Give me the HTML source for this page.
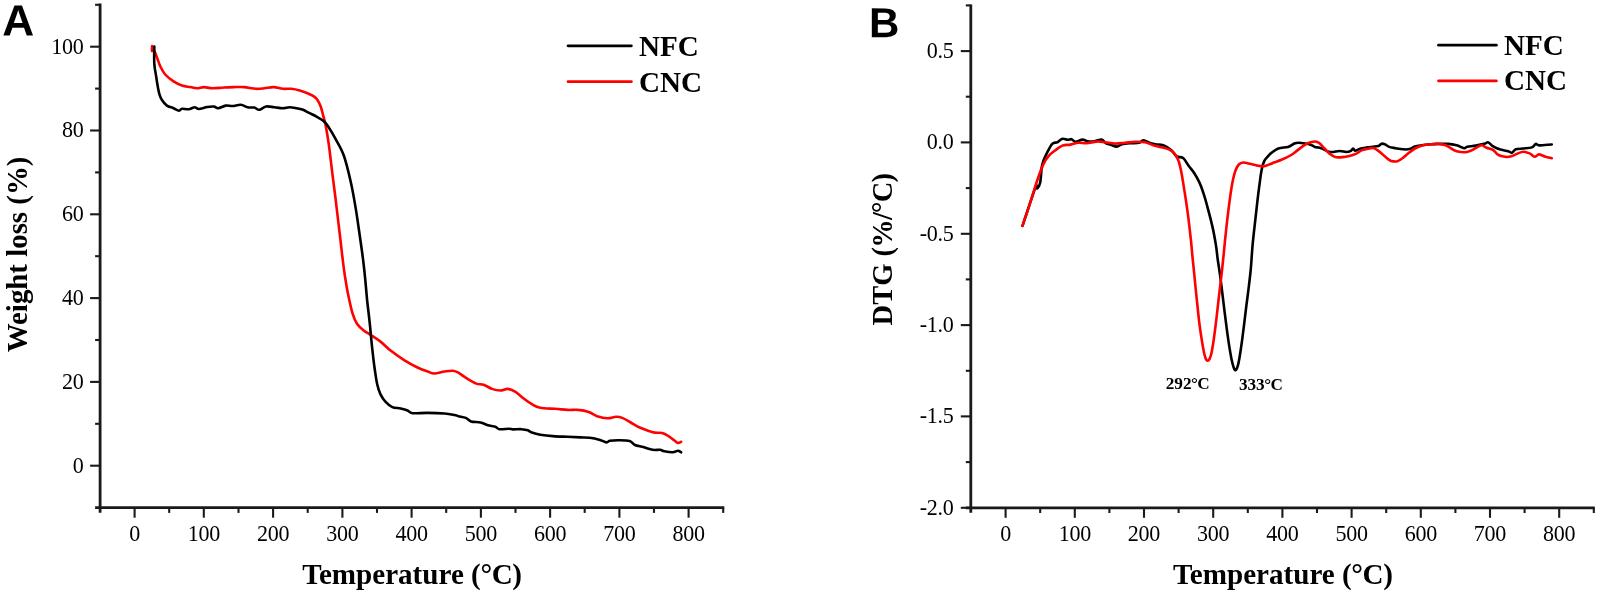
<!DOCTYPE html>
<html lang="en"><head><meta charset="utf-8"><title>TGA and DTG curves of NFC and CNC</title>
<style>
html,body{margin:0;padding:0;background:#fff;}
body{width:1600px;height:595px;overflow:hidden;}
svg{display:block;filter:blur(0.4px);}
text{fill:#000;}
.tk{font-family:"Liberation Serif","Times New Roman",serif;font-size:24px;letter-spacing:-0.3px;}
.lb{font-family:"Liberation Serif","Times New Roman",serif;font-weight:bold;font-size:28.5px;}
.lg{font-family:"Liberation Serif","Times New Roman",serif;font-weight:bold;font-size:29.1px;}
.an{font-family:"Liberation Serif","Times New Roman",serif;font-weight:bold;font-size:17.2px;}
.pn{font-family:"Liberation Sans",Arial,sans-serif;font-weight:bold;font-size:42px;}
.ax{stroke:#1a1a1a;stroke-width:2.8;fill:none;stroke-linecap:butt;}
.t{stroke:#1a1a1a;stroke-width:2.1;fill:none;}
.cv{fill:none;stroke-width:2.6;stroke-linejoin:round;stroke-linecap:round;}
</style></head><body>
<svg width="1600" height="595" viewBox="0 0 1600 595">
<rect x="0" y="0" width="1600" height="595" fill="#ffffff"/>
<g>
<line class="ax" x1="100.1" y1="3.5" x2="100.1" y2="512.7"/>
<line class="ax" x1="95.1" y1="507.7" x2="724.3" y2="507.7"/>
<line class="t" x1="134.6" y1="507.7" x2="134.6" y2="517.7"/>
<line class="t" x1="169.2" y1="507.7" x2="169.2" y2="512.9"/>
<line class="t" x1="203.8" y1="507.7" x2="203.8" y2="517.7"/>
<line class="t" x1="238.5" y1="507.7" x2="238.5" y2="512.9"/>
<line class="t" x1="273.1" y1="507.7" x2="273.1" y2="517.7"/>
<line class="t" x1="307.7" y1="507.7" x2="307.7" y2="512.9"/>
<line class="t" x1="342.4" y1="507.7" x2="342.4" y2="517.7"/>
<line class="t" x1="377.0" y1="507.7" x2="377.0" y2="512.9"/>
<line class="t" x1="411.6" y1="507.7" x2="411.6" y2="517.7"/>
<line class="t" x1="446.2" y1="507.7" x2="446.2" y2="512.9"/>
<line class="t" x1="480.9" y1="507.7" x2="480.9" y2="517.7"/>
<line class="t" x1="515.5" y1="507.7" x2="515.5" y2="512.9"/>
<line class="t" x1="550.1" y1="507.7" x2="550.1" y2="517.7"/>
<line class="t" x1="584.7" y1="507.7" x2="584.7" y2="512.9"/>
<line class="t" x1="619.4" y1="507.7" x2="619.4" y2="517.7"/>
<line class="t" x1="654.0" y1="507.7" x2="654.0" y2="512.9"/>
<line class="t" x1="688.6" y1="507.7" x2="688.6" y2="517.7"/>
<line class="t" x1="723.2" y1="507.7" x2="723.2" y2="512.9"/>
<text class="tk" transform="translate(134.6,541.3) scale(0.92,1)" text-anchor="middle">0</text>
<text class="tk" transform="translate(203.8,541.3) scale(0.92,1)" text-anchor="middle">100</text>
<text class="tk" transform="translate(273.1,541.3) scale(0.92,1)" text-anchor="middle">200</text>
<text class="tk" transform="translate(342.4,541.3) scale(0.92,1)" text-anchor="middle">300</text>
<text class="tk" transform="translate(411.6,541.3) scale(0.92,1)" text-anchor="middle">400</text>
<text class="tk" transform="translate(480.9,541.3) scale(0.92,1)" text-anchor="middle">500</text>
<text class="tk" transform="translate(550.1,541.3) scale(0.92,1)" text-anchor="middle">600</text>
<text class="tk" transform="translate(619.4,541.3) scale(0.92,1)" text-anchor="middle">700</text>
<text class="tk" transform="translate(688.6,541.3) scale(0.92,1)" text-anchor="middle">800</text>
<line class="t" x1="90.1" y1="465.7" x2="100.1" y2="465.7"/>
<text class="tk" transform="translate(83.6,472.5) scale(0.92,1)" text-anchor="end">0</text>
<line class="t" x1="90.1" y1="381.9" x2="100.1" y2="381.9"/>
<text class="tk" transform="translate(83.6,388.7) scale(0.92,1)" text-anchor="end">20</text>
<line class="t" x1="90.1" y1="298.1" x2="100.1" y2="298.1"/>
<text class="tk" transform="translate(83.6,304.9) scale(0.92,1)" text-anchor="end">40</text>
<line class="t" x1="90.1" y1="214.3" x2="100.1" y2="214.3"/>
<text class="tk" transform="translate(83.6,221.1) scale(0.92,1)" text-anchor="end">60</text>
<line class="t" x1="90.1" y1="130.5" x2="100.1" y2="130.5"/>
<text class="tk" transform="translate(83.6,137.3) scale(0.92,1)" text-anchor="end">80</text>
<line class="t" x1="90.1" y1="46.7" x2="100.1" y2="46.7"/>
<text class="tk" transform="translate(83.6,53.5) scale(0.92,1)" text-anchor="end">100</text>
<line class="t" x1="95.1" y1="423.8" x2="100.1" y2="423.8"/>
<line class="t" x1="95.1" y1="340.0" x2="100.1" y2="340.0"/>
<line class="t" x1="95.1" y1="256.2" x2="100.1" y2="256.2"/>
<line class="t" x1="95.1" y1="172.4" x2="100.1" y2="172.4"/>
<line class="t" x1="95.1" y1="88.6" x2="100.1" y2="88.6"/>
<line class="t" x1="95.1" y1="4.8" x2="100.1" y2="4.8"/>
<text class="lb" transform="translate(26.8,352.2) rotate(-90) scale(1,1.04)" style="font-size:28.86px">Weight loss (%)</text>
<text class="lb" x="302.2" y="584.4" style="font-size:29.1px">Temperature <tspan letter-spacing="-0.35">(°C)</tspan></text>
<text class="pn" transform="translate(2.3,35.6) scale(1.01,1) rotate(0.03)" style="font-size:43.8px">A</text>
</g>
<path class="cv" stroke="#f00" d="M152.1,46.0 C152.1,46.8 151.8,50.4 152.1,51.0 C152.3,51.6 152.8,48.5 153.6,49.5 C154.4,50.5 155.7,54.1 156.8,56.9 C157.9,59.7 158.8,63.2 160.2,66.1 C161.6,69.0 163.0,72.0 165.2,74.5 C167.4,77.0 170.8,79.5 173.6,81.3 C176.4,83.1 179.2,84.5 182.0,85.5 C184.8,86.5 187.9,86.6 190.4,87.1 C192.9,87.6 194.8,88.3 197.1,88.3 C199.3,88.3 201.4,87.1 203.9,87.1 C206.4,87.1 209.0,88.2 212.3,88.3 C215.7,88.4 220.4,87.7 224.0,87.5 C227.6,87.3 230.7,87.2 234.1,87.1 C237.5,87.0 240.5,86.8 244.2,87.1 C247.8,87.4 252.6,88.6 256.0,88.8 C259.4,89.0 261.5,88.6 264.4,88.3 C267.3,88.0 270.5,87.0 273.6,87.1 C276.7,87.2 279.9,88.5 282.9,88.8 C285.8,89.1 288.5,88.5 291.3,88.8 C294.1,89.1 296.9,89.7 299.7,90.5 C302.5,91.3 305.9,92.6 308.1,93.5 C310.3,94.4 311.6,94.9 313.1,95.9 C314.6,96.9 316.0,97.9 317.3,99.7 C318.6,101.5 319.7,103.8 320.7,106.5 C321.7,109.2 322.4,112.7 323.2,115.7 C324.0,118.7 324.6,119.8 325.5,124.5 C326.4,129.2 327.6,136.0 328.7,143.7 C329.8,151.4 330.9,161.6 332.0,170.6 C333.1,179.6 334.1,186.8 335.4,197.5 C336.7,208.2 338.4,222.7 339.8,234.5 C341.2,246.3 342.7,259.9 343.8,268.2 C344.9,276.4 345.4,279.2 346.2,284.0 C347.0,288.8 347.5,291.9 348.6,296.8 C349.7,301.7 351.2,309.1 352.6,313.6 C354.0,318.1 355.1,320.9 357.0,323.7 C358.9,326.5 361.4,328.6 363.7,330.5 C365.9,332.4 367.7,332.9 370.5,334.8 C373.3,336.7 377.1,339.0 380.5,341.6 C383.9,344.2 386.7,347.5 390.6,350.6 C394.5,353.7 399.6,357.3 404.1,360.1 C408.6,362.9 413.6,365.6 417.5,367.5 C421.4,369.4 424.8,370.5 427.6,371.5 C430.4,372.5 431.6,373.5 434.4,373.5 C437.2,373.5 441.4,371.9 444.5,371.5 C447.6,371.1 450.6,370.6 452.9,370.8 C455.2,371.0 456.1,371.4 458.4,372.7 C460.7,374.0 463.8,376.6 466.8,378.4 C469.8,380.2 473.5,382.6 476.3,383.6 C479.1,384.7 481.0,383.8 483.6,384.7 C486.2,385.6 489.2,387.9 492.0,388.9 C494.8,389.9 497.8,390.5 500.4,390.5 C503.0,390.5 505.4,388.7 507.8,388.9 C510.2,389.1 512.5,390.0 515.1,391.6 C517.7,393.2 520.7,396.2 523.5,398.3 C526.3,400.4 529.1,402.6 531.9,404.2 C534.7,405.8 536.4,407.0 540.3,407.8 C544.1,408.6 550.5,408.5 555.0,408.8 C559.5,409.1 563.7,409.7 567.6,409.9 C571.5,410.1 574.7,409.5 578.2,409.9 C581.7,410.2 585.6,410.9 588.7,412.0 C591.9,413.1 594.0,415.1 597.1,416.2 C600.2,417.2 604.5,418.2 607.6,418.3 C610.8,418.4 613.5,416.9 616.0,416.8 C618.5,416.7 619.8,416.9 622.3,417.9 C624.8,418.8 627.9,420.9 630.7,422.5 C633.5,424.1 636.3,426.0 639.1,427.3 C641.9,428.6 644.9,429.6 647.5,430.5 C650.1,431.4 652.3,432.2 654.8,432.6 C657.2,433.0 659.9,432.4 662.2,433.0 C664.5,433.6 666.4,434.8 668.5,436.1 C670.6,437.4 673.2,439.7 674.8,440.8 C676.4,441.9 676.8,442.7 677.9,442.9 C679.0,443.1 680.6,442.0 681.1,441.8"/>
<path class="cv" stroke="#000" d="M154.3,46.6 C154.3,49.4 154.0,58.8 154.3,63.6 C154.6,68.4 155.4,71.8 156.0,75.4 C156.6,79.1 157.0,82.4 157.6,85.5 C158.2,88.6 158.6,91.5 159.3,93.9 C160.0,96.3 160.5,97.8 161.8,99.7 C163.1,101.7 164.9,104.2 166.9,105.6 C168.9,107.0 171.6,107.3 173.6,108.2 C175.6,109.1 177.6,110.6 179.0,110.7 C180.4,110.8 180.4,108.9 182.0,108.7 C183.6,108.5 186.6,109.5 188.7,109.3 C190.8,109.1 192.9,107.3 194.6,107.3 C196.3,107.2 196.7,109.0 198.8,109.0 C200.9,109.0 204.7,107.4 207.2,107.0 C209.7,106.6 212.1,106.3 213.9,106.5 C215.7,106.7 216.2,108.4 218.2,108.2 C220.2,108.0 223.3,106.0 225.7,105.6 C228.1,105.2 229.9,106.1 232.4,106.0 C234.9,105.9 238.3,104.6 240.8,104.8 C243.3,105.0 245.3,106.8 247.6,107.3 C249.8,107.8 252.4,107.2 254.3,107.6 C256.2,108.0 257.4,110.0 259.3,109.8 C261.2,109.6 263.5,106.9 266.0,106.5 C268.5,106.1 271.6,107.0 274.4,107.3 C277.2,107.6 280.4,108.2 282.9,108.2 C285.4,108.2 287.4,107.3 289.6,107.3 C291.8,107.3 294.1,107.8 296.3,108.2 C298.5,108.6 300.8,109.0 303.0,109.8 C305.2,110.6 307.4,112.1 309.7,113.2 C311.9,114.3 314.2,115.3 316.5,116.6 C318.8,117.9 321.2,119.1 323.2,120.8 C325.1,122.5 326.2,123.5 328.2,126.5 C330.2,129.5 332.8,133.9 335.4,138.7 C338.0,143.5 341.3,148.5 343.8,155.5 C346.3,162.5 348.5,172.0 350.5,180.7 C352.5,189.4 354.1,198.6 355.6,207.6 C357.1,216.6 358.3,225.5 359.6,234.5 C360.9,243.5 362.4,253.8 363.3,261.4 C364.2,269.0 364.7,273.5 365.3,280.0 C365.9,286.5 366.4,292.9 367.1,300.2 C367.9,307.5 369.0,315.8 369.8,323.7 C370.6,331.6 371.3,340.0 372.1,347.3 C372.9,354.6 373.6,361.3 374.5,367.5 C375.4,373.7 376.2,379.8 377.2,384.3 C378.2,388.8 379.1,391.5 380.5,394.4 C381.9,397.3 383.6,399.7 385.6,401.8 C387.6,403.9 389.8,406.0 392.3,407.1 C394.8,408.2 398.2,407.9 400.7,408.5 C403.2,409.1 405.5,409.7 407.5,410.5 C409.5,411.3 409.1,412.8 412.5,413.2 C415.9,413.6 422.3,412.8 427.6,412.9 C432.9,412.9 440.0,413.1 444.5,413.5 C449.0,413.9 452.2,414.6 454.5,415.0 C456.8,415.4 456.5,415.7 458.4,416.2 C460.3,416.7 463.7,417.0 465.8,417.9 C467.9,418.8 468.6,420.6 471.0,421.4 C473.4,422.2 477.7,421.9 480.5,422.5 C483.3,423.1 485.4,424.5 487.8,425.2 C490.2,425.9 493.3,426.0 495.2,426.7 C497.1,427.4 497.1,428.8 499.4,429.2 C501.7,429.6 506.5,428.8 508.8,428.8 C511.1,428.8 510.9,429.3 513.0,429.4 C515.1,429.5 518.9,429.0 521.4,429.2 C523.9,429.4 526.0,429.7 527.7,430.3 C529.5,430.9 529.8,431.9 531.9,432.6 C534.0,433.3 536.8,434.1 540.3,434.7 C543.8,435.3 548.3,435.8 552.9,436.1 C557.5,436.5 563.0,436.6 567.6,436.8 C572.2,437.0 576.6,437.2 580.3,437.4 C584.0,437.6 586.6,437.4 589.7,437.8 C592.9,438.2 596.4,438.9 599.2,439.7 C602.0,440.5 604.8,442.2 606.5,442.4 C608.2,442.6 607.8,441.1 609.7,440.8 C611.6,440.5 614.8,440.3 618.1,440.3 C621.4,440.3 626.8,440.2 629.6,441.0 C632.4,441.8 632.6,444.0 634.9,445.0 C637.2,446.0 640.3,446.3 643.3,447.1 C646.3,447.9 649.9,449.4 652.7,449.8 C655.5,450.2 658.2,449.6 660.1,449.8 C662.0,450.1 662.2,450.9 664.3,451.3 C666.4,451.7 670.4,452.4 672.7,452.3 C675.0,452.2 676.5,450.8 677.9,450.8 C679.3,450.8 680.6,452.1 681.1,452.3"/>
<line x1="568" y1="45.8" x2="631.4" y2="45.8" stroke="#000" stroke-width="2.7" stroke-linecap="round"/>
<line x1="568" y1="81.7" x2="631.4" y2="81.7" stroke="#f00" stroke-width="2.7" stroke-linecap="round"/>
<text class="lg" x="638.9" y="55.9">NFC</text>
<text class="lg" x="638.9" y="91.8">CNC</text>
<g>
<line class="ax" x1="970.8" y1="4.4" x2="970.8" y2="512.8"/>
<line class="ax" x1="965.8" y1="507.8" x2="1594.8" y2="507.8"/>
<line class="t" x1="1005.6" y1="507.8" x2="1005.6" y2="517.8"/>
<line class="t" x1="1040.2" y1="507.8" x2="1040.2" y2="513.0"/>
<line class="t" x1="1074.8" y1="507.8" x2="1074.8" y2="517.8"/>
<line class="t" x1="1109.4" y1="507.8" x2="1109.4" y2="513.0"/>
<line class="t" x1="1144.0" y1="507.8" x2="1144.0" y2="517.8"/>
<line class="t" x1="1178.6" y1="507.8" x2="1178.6" y2="513.0"/>
<line class="t" x1="1213.2" y1="507.8" x2="1213.2" y2="517.8"/>
<line class="t" x1="1247.8" y1="507.8" x2="1247.8" y2="513.0"/>
<line class="t" x1="1282.4" y1="507.8" x2="1282.4" y2="517.8"/>
<line class="t" x1="1317.0" y1="507.8" x2="1317.0" y2="513.0"/>
<line class="t" x1="1351.6" y1="507.8" x2="1351.6" y2="517.8"/>
<line class="t" x1="1386.2" y1="507.8" x2="1386.2" y2="513.0"/>
<line class="t" x1="1420.8" y1="507.8" x2="1420.8" y2="517.8"/>
<line class="t" x1="1455.4" y1="507.8" x2="1455.4" y2="513.0"/>
<line class="t" x1="1490.0" y1="507.8" x2="1490.0" y2="517.8"/>
<line class="t" x1="1524.6" y1="507.8" x2="1524.6" y2="513.0"/>
<line class="t" x1="1559.2" y1="507.8" x2="1559.2" y2="517.8"/>
<line class="t" x1="1593.8" y1="507.8" x2="1593.8" y2="513.0"/>
<text class="tk" transform="translate(1005.6,541.3) scale(0.92,1)" text-anchor="middle">0</text>
<text class="tk" transform="translate(1074.8,541.3) scale(0.92,1)" text-anchor="middle">100</text>
<text class="tk" transform="translate(1144.0,541.3) scale(0.92,1)" text-anchor="middle">200</text>
<text class="tk" transform="translate(1213.2,541.3) scale(0.92,1)" text-anchor="middle">300</text>
<text class="tk" transform="translate(1282.4,541.3) scale(0.92,1)" text-anchor="middle">400</text>
<text class="tk" transform="translate(1351.6,541.3) scale(0.92,1)" text-anchor="middle">500</text>
<text class="tk" transform="translate(1420.8,541.3) scale(0.92,1)" text-anchor="middle">600</text>
<text class="tk" transform="translate(1490.0,541.3) scale(0.92,1)" text-anchor="middle">700</text>
<text class="tk" transform="translate(1559.2,541.3) scale(0.92,1)" text-anchor="middle">800</text>
<line class="t" x1="960.8" y1="51.1" x2="970.8" y2="51.1"/>
<text class="tk" transform="translate(953.6,57.9) scale(0.92,1)" text-anchor="end">0.5</text>
<line class="t" x1="960.8" y1="142.4" x2="970.8" y2="142.4"/>
<text class="tk" transform="translate(953.6,149.2) scale(0.92,1)" text-anchor="end">0.0</text>
<line class="t" x1="960.8" y1="233.8" x2="970.8" y2="233.8"/>
<text class="tk" transform="translate(953.6,240.6) scale(0.92,1)" text-anchor="end">-0.5</text>
<line class="t" x1="960.8" y1="325.1" x2="970.8" y2="325.1"/>
<text class="tk" transform="translate(953.6,331.9) scale(0.92,1)" text-anchor="end">-1.0</text>
<line class="t" x1="960.8" y1="416.4" x2="970.8" y2="416.4"/>
<text class="tk" transform="translate(953.6,423.2) scale(0.92,1)" text-anchor="end">-1.5</text>
<line class="t" x1="960.8" y1="507.8" x2="970.8" y2="507.8"/>
<text class="tk" transform="translate(953.6,514.6) scale(0.92,1)" text-anchor="end">-2.0</text>
<line class="t" x1="965.8" y1="5.4" x2="970.8" y2="5.4"/>
<line class="t" x1="965.8" y1="96.7" x2="970.8" y2="96.7"/>
<line class="t" x1="965.8" y1="188.1" x2="970.8" y2="188.1"/>
<line class="t" x1="965.8" y1="279.4" x2="970.8" y2="279.4"/>
<line class="t" x1="965.8" y1="370.8" x2="970.8" y2="370.8"/>
<line class="t" x1="965.8" y1="462.1" x2="970.8" y2="462.1"/>
<text class="lb" transform="translate(891.6,325.4) rotate(-90) scale(1,1.04)" style="font-size:28.5px">DTG <tspan letter-spacing="-0.75">(%/°C)</tspan></text>
<text class="lb" x="1173.1" y="584.4" style="font-size:29.1px">Temperature <tspan letter-spacing="-0.35">(°C)</tspan></text>
<text class="pn" transform="translate(869,37.2) scale(1.0,1) rotate(0.03)" style="font-size:42px">B</text>
</g>
<path class="cv" stroke="#000" d="M1022.5,225.8 C1023.8,222.0 1028.0,209.3 1030.2,202.7 C1032.5,196.1 1034.8,188.4 1036.0,186.0 C1037.2,183.6 1036.5,189.1 1037.2,188.5 C1037.9,187.9 1039.4,186.5 1040.2,182.5 C1041.0,178.5 1041.1,169.4 1042.3,164.4 C1043.5,159.4 1045.6,155.7 1047.3,152.3 C1049.0,148.9 1050.6,145.5 1052.3,143.8 C1054.0,142.1 1055.7,143.0 1057.4,142.2 C1059.1,141.4 1060.7,139.2 1062.4,138.8 C1064.1,138.4 1066.0,139.7 1067.5,139.8 C1069.0,139.9 1070.2,138.9 1071.5,139.2 C1072.8,139.5 1073.7,141.7 1075.5,141.8 C1077.3,141.9 1080.6,139.7 1082.6,139.6 C1084.6,139.5 1085.6,140.9 1087.6,141.2 C1089.6,141.5 1092.3,141.5 1094.7,141.2 C1097.1,140.9 1099.9,139.3 1101.7,139.6 C1103.5,139.9 1104.3,142.3 1105.8,143.2 C1107.3,144.1 1108.9,144.2 1110.8,144.8 C1112.7,145.4 1115.1,146.7 1116.9,146.6 C1118.8,146.5 1119.6,144.8 1121.9,144.2 C1124.2,143.6 1128.2,143.4 1131.0,143.2 C1133.8,143.0 1137.0,143.3 1139.0,142.8 C1141.0,142.3 1141.6,140.3 1143.1,140.2 C1144.6,140.1 1146.1,141.5 1148.1,142.2 C1150.1,142.9 1152.7,143.7 1155.2,144.2 C1157.7,144.7 1160.5,144.2 1163.2,145.2 C1165.9,146.2 1169.1,148.3 1171.3,150.2 C1173.5,152.1 1174.6,155.1 1176.6,156.4 C1178.6,157.7 1181.1,156.4 1183.1,158.0 C1185.1,159.6 1186.8,163.3 1188.6,165.8 C1190.4,168.3 1192.2,170.0 1194.0,172.8 C1195.8,175.6 1197.8,179.0 1199.5,182.6 C1201.2,186.2 1202.5,190.0 1203.9,194.6 C1205.4,199.2 1206.8,204.4 1208.2,209.9 C1209.7,215.4 1211.3,221.6 1212.6,227.4 C1213.9,233.2 1215.0,239.5 1215.9,244.9 C1216.8,250.3 1217.1,255.1 1217.8,260.0 C1218.5,264.9 1219.2,268.6 1219.9,274.1 C1220.7,279.6 1221.5,286.7 1222.3,293.0 C1223.1,299.3 1223.8,305.5 1224.6,311.8 C1225.4,318.1 1226.2,324.8 1227.0,330.7 C1227.8,336.6 1228.6,342.2 1229.4,347.1 C1230.2,352.0 1231.0,356.8 1231.7,360.1 C1232.4,363.5 1233.0,365.5 1233.6,367.2 C1234.2,368.9 1234.9,370.2 1235.5,370.2 C1236.1,370.2 1236.7,369.3 1237.4,367.2 C1238.1,365.1 1238.8,361.8 1239.5,357.7 C1240.2,353.6 1241.0,348.1 1241.8,342.4 C1242.6,336.7 1243.4,329.9 1244.2,323.6 C1245.0,317.3 1245.7,311.0 1246.5,304.7 C1247.3,298.4 1248.2,291.9 1248.9,285.9 C1249.6,279.9 1250.2,275.7 1250.8,268.9 C1251.4,262.1 1251.9,252.9 1252.6,244.9 C1253.3,236.9 1254.4,228.1 1255.2,220.8 C1256.0,213.5 1256.7,207.4 1257.4,201.2 C1258.1,195.0 1258.9,189.0 1259.6,183.7 C1260.3,178.4 1260.9,173.3 1261.7,169.5 C1262.5,165.7 1263.2,163.2 1264.3,160.9 C1265.4,158.7 1267.2,157.2 1268.3,156.0 C1269.4,154.8 1269.1,154.7 1270.8,153.4 C1272.5,152.2 1275.4,149.6 1278.3,148.5 C1281.2,147.4 1285.3,147.7 1288.0,146.9 C1290.7,146.1 1292.6,144.2 1294.4,143.5 C1296.2,142.8 1296.9,142.8 1298.7,142.8 C1300.5,142.8 1303.2,143.2 1305.2,143.5 C1307.2,143.8 1309.0,144.1 1310.6,144.7 C1312.2,145.3 1313.1,146.3 1314.9,146.9 C1316.7,147.5 1318.8,147.3 1321.3,148.2 C1323.8,149.0 1326.9,151.5 1329.9,152.0 C1333.0,152.5 1336.9,151.0 1339.6,151.0 C1342.3,151.0 1344.3,152.0 1346.1,152.0 C1347.9,152.0 1349.2,151.8 1350.4,151.2 C1351.6,150.6 1352.3,148.6 1353.1,148.5 C1353.9,148.4 1354.0,150.6 1355.2,150.7 C1356.4,150.8 1358.0,149.4 1360.1,148.8 C1362.2,148.2 1365.4,147.8 1367.6,147.4 C1369.8,147.1 1371.2,146.9 1373.0,146.7 C1374.8,146.5 1377.0,146.5 1378.4,146.0 C1379.8,145.5 1380.5,144.0 1381.6,143.7 C1382.7,143.4 1383.5,143.7 1384.8,144.2 C1386.0,144.7 1387.3,146.2 1389.1,146.9 C1390.9,147.6 1393.3,147.8 1395.6,148.2 C1397.9,148.6 1400.8,149.2 1403.1,149.3 C1405.4,149.5 1407.6,149.6 1409.6,149.1 C1411.6,148.6 1412.9,147.0 1414.9,146.4 C1416.9,145.8 1419.1,145.6 1421.4,145.3 C1423.7,145.0 1426.0,144.7 1428.6,144.5 C1431.2,144.3 1434.0,144.0 1437.2,143.9 C1440.4,143.8 1444.8,143.7 1448.0,143.9 C1451.2,144.1 1453.9,144.6 1456.6,145.3 C1459.3,146.0 1462.3,148.0 1464.1,148.2 C1465.9,148.4 1465.3,147.1 1467.3,146.7 C1469.3,146.3 1473.0,146.1 1475.9,145.6 C1478.8,145.1 1482.5,144.2 1484.6,143.7 C1486.7,143.2 1486.9,141.9 1488.3,142.4 C1489.7,142.9 1491.3,145.2 1493.2,146.4 C1495.1,147.6 1497.1,148.5 1499.6,149.3 C1502.1,150.1 1506.1,150.6 1508.2,151.2 C1510.3,151.8 1510.7,153.1 1512.0,152.8 C1513.3,152.5 1513.9,150.0 1515.8,149.3 C1517.7,148.6 1520.6,148.8 1523.3,148.5 C1526.0,148.2 1529.8,148.2 1531.9,147.4 C1534.0,146.6 1534.6,144.2 1535.7,143.9 C1536.8,143.6 1536.9,145.1 1538.4,145.3 C1539.9,145.5 1542.6,145.1 1544.8,145.0 C1547.0,144.9 1550.6,144.6 1551.8,144.5"/>
<path class="cv" stroke="#f00" d="M1022.5,225.8 C1023.8,222.0 1027.8,210.2 1030.2,202.7 C1032.7,195.1 1035.0,186.9 1037.2,180.5 C1039.4,174.1 1041.5,168.4 1043.3,164.4 C1045.1,160.4 1046.3,158.7 1048.3,156.3 C1050.3,153.9 1053.1,152.0 1055.4,150.2 C1057.8,148.4 1059.9,146.5 1062.4,145.6 C1064.9,144.7 1067.8,145.1 1070.5,144.6 C1073.2,144.1 1075.8,143.0 1078.5,142.8 C1081.2,142.6 1083.6,143.4 1086.6,143.2 C1089.6,143.0 1093.7,141.8 1096.7,141.6 C1099.7,141.4 1101.8,141.9 1104.8,142.2 C1107.8,142.5 1111.4,143.5 1114.8,143.6 C1118.2,143.7 1121.5,143.1 1124.9,142.8 C1128.3,142.5 1131.6,141.9 1135.0,141.8 C1138.4,141.7 1142.1,141.6 1145.1,142.2 C1148.1,142.8 1150.4,144.4 1153.1,145.2 C1155.8,146.0 1158.5,146.5 1161.2,147.2 C1163.9,147.9 1167.1,148.6 1169.3,149.6 C1171.5,150.6 1172.8,151.5 1174.3,153.3 C1175.8,155.1 1177.1,157.1 1178.3,160.3 C1179.5,163.5 1180.4,167.4 1181.4,172.4 C1182.4,177.4 1183.4,184.2 1184.4,190.6 C1185.4,197.0 1186.3,202.6 1187.4,210.7 C1188.5,218.8 1189.9,230.8 1190.8,239.0 C1191.7,247.2 1192.1,253.4 1192.8,260.0 C1193.5,266.6 1194.0,271.7 1194.7,278.8 C1195.4,285.9 1196.3,294.9 1197.1,302.4 C1197.9,309.9 1198.6,317.3 1199.4,323.6 C1200.2,329.9 1201.0,335.2 1201.8,340.1 C1202.6,345.0 1203.4,349.9 1204.1,353.0 C1204.8,356.1 1205.2,357.6 1205.8,358.9 C1206.4,360.2 1207.1,360.8 1207.7,360.8 C1208.3,360.8 1208.9,360.4 1209.6,358.9 C1210.3,357.4 1211.0,355.4 1211.7,351.9 C1212.4,348.4 1213.2,343.2 1214.0,337.7 C1214.8,332.2 1215.6,325.6 1216.4,318.9 C1217.2,312.2 1218.0,304.8 1218.8,297.7 C1219.6,290.6 1220.5,283.6 1221.3,276.5 C1222.1,269.4 1222.8,263.2 1223.6,255.0 C1224.4,246.8 1225.5,235.7 1226.4,227.4 C1227.3,219.2 1228.1,212.4 1229.0,205.5 C1229.9,198.6 1230.8,191.5 1231.8,185.9 C1232.8,180.3 1233.9,175.3 1235.1,171.7 C1236.3,168.1 1237.4,166.0 1238.8,164.5 C1240.2,163.0 1241.2,162.6 1243.2,162.5 C1245.2,162.4 1248.4,163.5 1250.8,164.0 C1253.2,164.5 1255.2,165.2 1257.4,165.6 C1259.6,166.0 1261.7,166.5 1263.9,166.2 C1266.1,165.9 1268.8,164.6 1270.5,164.0 C1272.2,163.4 1272.2,163.2 1274.0,162.5 C1275.8,161.8 1278.6,161.1 1281.5,159.8 C1284.4,158.6 1288.5,156.6 1291.2,155.0 C1293.9,153.4 1295.4,151.8 1297.7,150.1 C1300.0,148.4 1303.1,146.0 1305.2,144.7 C1307.3,143.4 1308.9,142.8 1310.6,142.3 C1312.3,141.8 1314.0,141.4 1315.4,141.5 C1316.8,141.6 1317.7,141.9 1319.2,143.1 C1320.7,144.3 1322.8,146.7 1324.6,148.5 C1326.4,150.3 1328.1,152.5 1329.9,153.9 C1331.7,155.3 1333.2,156.6 1335.3,157.1 C1337.4,157.6 1340.5,157.3 1342.8,157.1 C1345.1,156.9 1347.1,156.5 1349.3,156.0 C1351.5,155.5 1353.6,154.9 1355.8,153.9 C1358.0,152.9 1360.2,150.9 1362.2,150.1 C1364.2,149.2 1365.8,149.2 1367.6,148.8 C1369.4,148.5 1371.4,147.8 1373.0,148.0 C1374.6,148.2 1375.7,149.0 1377.3,150.1 C1378.9,151.2 1380.7,152.8 1382.7,154.4 C1384.7,156.0 1387.3,158.6 1389.1,159.8 C1390.9,161.0 1392.0,161.2 1393.4,161.4 C1394.8,161.6 1396.1,161.7 1397.7,161.1 C1399.3,160.5 1401.1,159.2 1403.1,157.7 C1405.1,156.2 1407.6,153.8 1409.6,152.3 C1411.6,150.8 1412.9,149.6 1414.9,148.5 C1416.9,147.4 1419.1,146.5 1421.4,145.8 C1423.7,145.1 1426.0,144.8 1428.6,144.5 C1431.2,144.2 1434.3,143.8 1437.2,143.9 C1440.1,144.0 1443.5,144.5 1445.8,145.3 C1448.1,146.1 1449.4,147.5 1451.2,148.5 C1453.0,149.5 1454.3,150.6 1456.6,151.2 C1458.9,151.8 1462.9,152.4 1465.2,152.3 C1467.5,152.2 1468.6,151.5 1470.6,150.7 C1472.6,149.9 1475.1,148.3 1477.0,147.4 C1478.9,146.5 1480.3,145.2 1481.9,145.3 C1483.5,145.4 1484.8,147.0 1486.7,147.8 C1488.6,148.6 1491.2,148.9 1493.2,150.1 C1495.2,151.3 1496.5,153.9 1498.5,155.0 C1500.5,156.1 1503.0,156.5 1505.0,156.8 C1507.0,157.1 1508.4,157.1 1510.4,156.6 C1512.4,156.1 1514.7,154.7 1516.8,153.9 C1518.9,153.1 1521.1,151.8 1523.3,151.7 C1525.5,151.6 1527.8,152.6 1529.7,153.4 C1531.6,154.2 1533.1,156.6 1534.6,156.8 C1536.1,157.0 1537.2,154.5 1538.9,154.4 C1540.6,154.3 1542.7,155.8 1544.8,156.4 C1546.9,157.0 1550.6,157.9 1551.8,158.2"/>
<line x1="1438.5" y1="45.2" x2="1496.4" y2="45.2" stroke="#000" stroke-width="2.7" stroke-linecap="round"/>
<line x1="1438.5" y1="80.9" x2="1496.4" y2="80.9" stroke="#f00" stroke-width="2.7" stroke-linecap="round"/>
<text class="lg" x="1503.9" y="54.7">NFC</text>
<text class="lg" x="1503.9" y="90.0">CNC</text>
<text class="an" x="1165.7" y="388.9">292<tspan dx="-0.5">°</tspan><tspan dx="-0.6">C</tspan></text>
<text class="an" x="1238.9" y="389.6">333<tspan dx="-0.5">°</tspan><tspan dx="-0.6">C</tspan></text>
</svg>
</body></html>
